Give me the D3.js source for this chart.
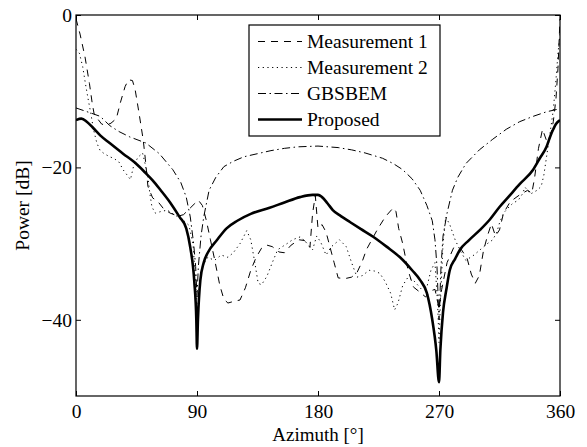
<!DOCTYPE html>
<html>
<head>
<script src="https://cdn.jsdelivr.net/npm/d3@7"></script>
<style>
body { margin: 0; background: #fff; }
text { font-family: "Liberation Serif", "Times New Roman", serif; }
.tick line { stroke: #000; stroke-width: 1; }
.tick text { font-size: 19.5px; fill: #000; }
</style>
</head>
<body>
<div id="chart"></div>
<script>
var w = 587, h = 447;
var margin = {top: 15, right: 27, bottom: 51, left: 76};

var xTicks = [0, 90, 180, 270, 360];
var yTicks = [-40, -20, 0];

var seriesNames = ["Measurement 1", "Measurement 2", "GBSBEM", "Proposed"];

// [azimuth deg, power dB]
var measurement1 = [[0,-0.5],[3,-2.5],[6.7,-5.5],[10,-9],[12,-11.5],[13.5,-13],[16,-13.6],[19,-14.3],[22,-14.5],[26,-14.2],[30,-13.6],[33,-11.5],[36.5,-9.4],[39,-8.5],[42,-8.6],[44,-9.8],[47,-13],[50,-16.4],[51.5,-18.8],[53.5,-22.5],[57,-24],[61,-24.5],[65,-25.4],[70,-26],[76,-26.4],[80,-26.2],[84,-25.5],[88,-24.8],[91,-24.3],[94,-25],[97,-27],[100,-29.5],[103,-32],[107,-35.5],[110,-37.3],[113,-37.8],[117,-37.6],[122,-37.4],[126,-35.8],[130,-33.5],[134,-31.8],[138,-30.6],[142,-30.2],[146,-30.4],[151,-31.1],[155,-31.2],[160,-30.2],[166,-29.5],[170,-29.6],[174,-30.5],[176,-26],[178,-23.7],[180,-28],[183,-27.5],[186,-28.5],[189,-30.5],[192,-32.5],[195,-34.5],[200,-34.6],[205,-34.4],[209,-33.8],[213,-32.3],[216,-30.8],[220,-29.5],[224,-28.2],[230,-26.5],[236,-25.3],[238,-25.8],[240,-28],[243,-30],[247,-33.5],[251,-35.7],[256,-36.4],[260,-37],[264,-36.2],[267,-36],[270,-38.5],[272,-36],[276,-32.5],[281,-30.5],[286,-30.6],[291,-32],[294,-34],[297,-35.2],[300,-34.2],[303,-31],[306,-29],[309,-27.4],[312,-29],[315,-28.2],[318,-26],[323,-24.5],[330,-23.6],[336,-23],[339,-23.4],[341,-21.5],[344,-17.5],[347,-15],[350,-16.5],[353,-15.8],[355,-14],[357,-11],[358.5,-7],[360,-0.5]];

var measurement2 = [[0,-4.5],[2.5,-5],[5,-6.8],[7,-9],[9,-11],[11,-12.9],[13,-15],[15.5,-16.8],[18,-17.8],[21,-18.2],[25,-18.6],[28,-18.8],[32,-19.3],[35,-20.3],[38,-21],[40.5,-21.6],[43,-19.7],[46,-18.7],[49.5,-18.1],[51,-19.2],[53.5,-21.3],[55,-23.5],[56.5,-25.2],[59,-26],[63,-25.8],[68,-25.6],[73,-26.2],[79,-26.8],[84,-27.6],[87,-30],[89,-35],[90,-40],[91.5,-36],[94,-33],[98,-31.8],[103,-32.2],[108,-31.5],[113,-31.8],[117,-31.2],[122,-30],[127,-28.3],[130,-29.5],[133,-32.5],[135.5,-35.2],[138,-35.4],[142,-34.3],[146,-32.5],[150,-30.8],[157,-30],[161,-29.5],[167,-29.1],[172,-30],[176,-30.8],[179,-29],[182,-29.8],[186,-31.5],[190,-30.4],[196,-29.5],[201,-30.4],[205,-32.5],[209,-34.4],[213,-34.2],[218,-33.5],[222,-33.6],[226,-33.9],[230,-35],[234,-36.5],[237,-38.7],[239.5,-37.8],[243,-35.5],[247,-34.4],[252,-35],[257,-36],[261,-35.7],[264,-33.5],[267,-32.5],[269,-38],[270,-43],[271,-38],[273,-30],[275,-26.5],[278,-27.5],[282,-29.5],[286,-31],[290,-32.2],[296,-31.5],[302,-30.6],[306,-30],[310,-29.5],[313,-28.5],[315,-27.3],[318,-26],[322,-25.2],[325,-24.7],[329,-24.3],[332,-23.5],[334,-22.6],[338,-23.5],[343,-23],[346,-22.5],[348,-21],[350,-18.6],[353,-15],[355,-12.5],[357,-8.5],[358.5,-5],[360,-2.5]];

var gbsbem = [[0,-12.2],[10,-12.8],[18,-13.3],[25,-14.5],[32,-15.3],[40,-16],[52,-16.8],[62,-18.2],[72,-20.3],[78,-22],[82,-23.9],[85,-26.5],[87.5,-30],[89,-33],[90,-37],[91,-33],[93,-29],[95,-26.5],[99,-23],[104,-21.3],[110,-19.9],[117,-19.2],[125,-18.6],[135,-18.2],[145,-17.8],[155,-17.5],[165,-17.3],[180,-17.2],[195,-17.4],[205,-17.7],[215,-18.1],[228,-18.8],[236,-19.5],[243,-20.3],[250,-21.5],[256,-23],[261,-25],[265,-27],[267,-29.5],[268.5,-33],[270,-40],[271.5,-33],[273,-29],[276,-26],[280,-23],[284,-21.3],[290,-19.5],[300,-17.7],[310,-16.3],[320,-15],[330,-14],[340,-13.3],[350,-12.7],[360,-12.3]];

var proposed = [[0,-13.8],[4,-13.6],[8,-14],[12.6,-14.8],[18,-15.8],[25,-16.8],[35,-18.2],[44,-19.4],[51,-20.6],[57,-21.7],[63,-23],[70,-24.6],[77,-26.5],[82,-28],[85,-30.5],[88,-35],[89.5,-40],[90,-43.8],[90.7,-40],[92.5,-34.8],[95,-32.5],[98,-31.2],[105,-29.5],[112,-28],[120,-27],[130,-26.1],[144,-25.3],[155,-24.6],[166.6,-23.9],[176,-23.6],[180,-23.6],[183,-23.9],[187,-24.7],[191,-25.6],[197,-26.4],[204,-27.2],[212,-28.1],[221,-29.1],[231,-30.4],[241,-31.8],[250,-33.5],[256,-34.8],[261,-36.5],[265,-40],[268,-44],[270,-48.2],[271,-44],[273,-39],[275.5,-36],[278,-33.5],[282,-32],[285.6,-30.8],[292,-29.6],[300.5,-28.2],[308,-26.8],[315,-25.2],[322,-23.8],[330,-22.2],[340,-20.3],[345,-18.8],[350,-17.3],[353,-15.8],[355,-15],[357,-14.3],[360,-13.8]];

var allSeries = [measurement1, measurement2, gbsbem, proposed];
var dashes = ["7,6", "1.2,3.5", "8,3.5,1.5,3.5", null];
var widths = [1, 1, 1, 2.6];

var svg = d3.select("#chart").append("svg")
    .attr("width", w)
    .attr("height", h);

var x = d3.scaleLinear().domain([0, 360]).range([margin.left, w - margin.right]);
var y = d3.scaleLinear().domain([-50, 0]).range([h - margin.bottom, margin.top]);

svg.append("defs").append("clipPath").attr("id", "clip")
  .append("rect")
    .attr("x", x(0)).attr("y", y(0))
    .attr("width", x(360) - x(0)).attr("height", y(-50) - y(0));

var line = d3.line()
    .x(function(d) { return x(d[0]); })
    .y(function(d) { return y(d[1]); });

svg.append("g").attr("clip-path", "url(#clip)")
  .selectAll("path")
  .data(allSeries)
  .enter().append("path")
    .attr("d", function(d, i) { return i == 3 ? line.curve(d3.curveMonotoneX)(d) : line.curve(d3.curveLinear)(d); })
    .style("fill", "none")
    .style("stroke", "#000")
    .style("stroke-width", function(d, i) { return widths[i]; })
    .style("stroke-dasharray", function(d, i) { return dashes[i]; });

// axes with inward ticks
svg.append("g")
    .attr("transform", "translate(0," + y(-50) + ")")
    .call(d3.axisBottom(x).tickValues(xTicks).tickSize(-5).tickPadding(8))
    .call(function(g) { g.select(".domain").remove(); });
svg.append("g")
    .attr("transform", "translate(0," + y(0) + ")")
    .call(d3.axisTop(x).tickValues(xTicks).tickSize(-5).tickFormat(""))
    .call(function(g) { g.select(".domain").remove(); });
svg.append("g")
    .attr("transform", "translate(" + x(0) + ",0)")
    .call(d3.axisLeft(y).tickValues(yTicks).tickSize(-5).tickPadding(4))
    .call(function(g) { g.select(".domain").remove(); });
svg.append("g")
    .attr("transform", "translate(" + x(360) + ",0)")
    .call(d3.axisRight(y).tickValues(yTicks).tickSize(-5).tickFormat(""))
    .call(function(g) { g.select(".domain").remove(); });

svg.append("rect")
    .attr("x", x(0)).attr("y", y(0))
    .attr("width", x(360) - x(0)).attr("height", y(-50) - y(0))
    .style("fill", "none").style("stroke", "#000").style("stroke-width", 1.2);

svg.append("text")
    .attr("x", x(180)).attr("y", 441)
    .attr("text-anchor", "middle")
    .style("font-size", "19px")
    .text("Azimuth [°]");

svg.append("text")
    .attr("transform", "translate(29," + y(-25) + ") rotate(-90)")
    .attr("text-anchor", "middle")
    .style("font-size", "19.5px")
    .text("Power [dB]");

// legend
var legend = svg.append("g").attr("transform", "translate(249,25)");
legend.append("rect")
    .attr("width", 191).attr("height", 111)
    .style("fill", "#fff").style("stroke", "#000").style("stroke-width", 1.2);

var item = legend.selectAll("g.item")
    .data(seriesNames)
  .enter().append("g")
    .attr("class", "item")
    .attr("transform", function(d, i) { return "translate(0," + (16.5 + i * 26) + ")"; });

item.append("line")
    .attr("x1", 9).attr("x2", 53)
    .style("stroke", "#000")
    .style("stroke-width", function(d, i) { return widths[i]; })
    .style("stroke-dasharray", function(d, i) { return dashes[i]; });

item.append("text")
    .attr("x", 58).attr("y", 6.5)
    .style("font-size", "19.5px")
    .text(function(d) { return d; });
</script>
</body>
</html>
